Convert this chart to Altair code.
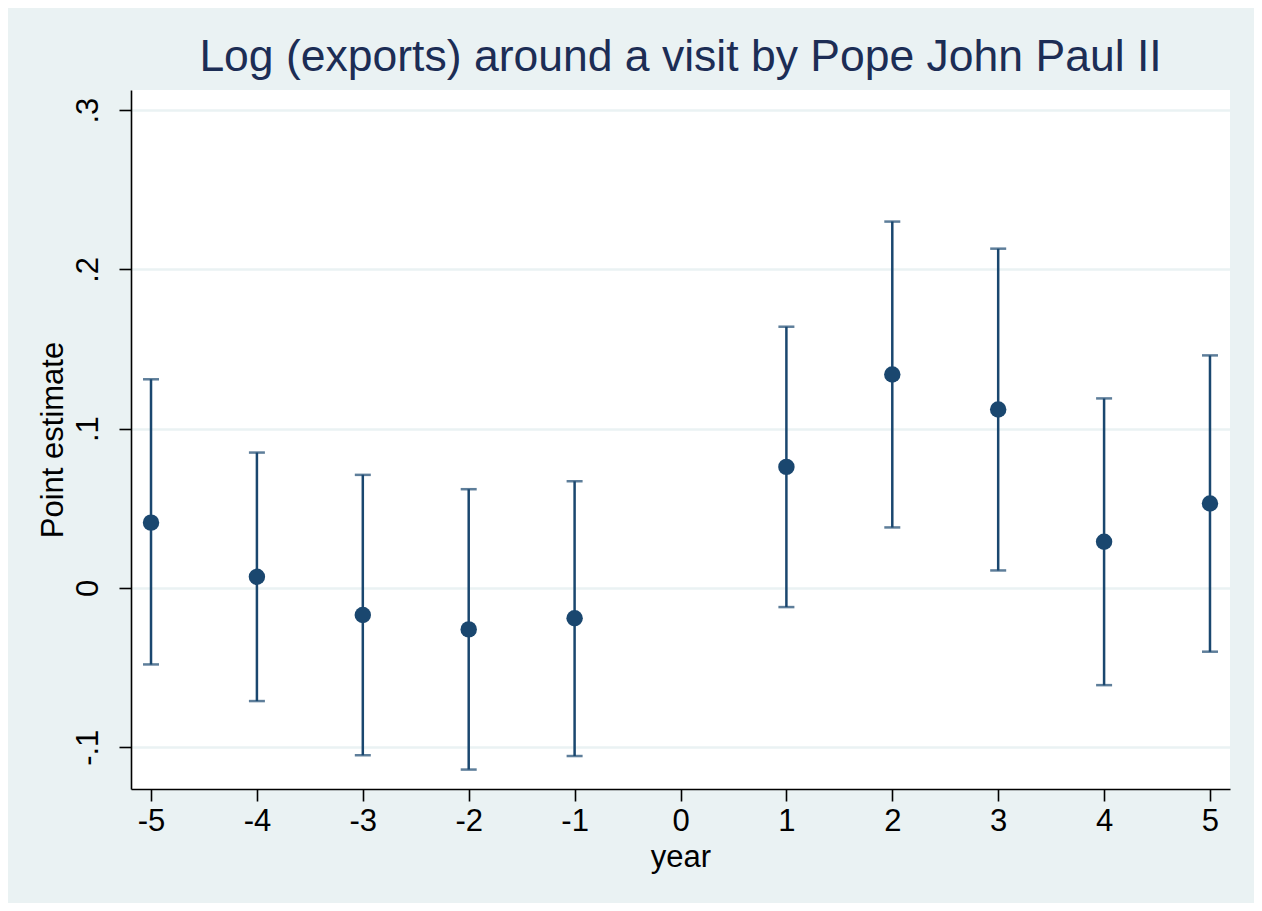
import altair as alt
import pandas as pd

years = [-5, -4, -3, -2, -1, 1, 2, 3, 4, 5]
estimate = [0.041, 0.007, -0.017, -0.026, -0.019, 0.076, 0.134, 0.112, 0.029, 0.053]
upper = [0.131, 0.085, 0.071, 0.062, 0.067, 0.164, 0.230, 0.213, 0.119, 0.146]
lower = [-0.048, -0.071, -0.105, -0.114, -0.1055, -0.012, 0.038, 0.011, -0.061, -0.040]
x_ticks = [-5, -4, -3, -2, -1, 0, 1, 2, 3, 4, 5]
y_ticks = [-0.1, 0, 0.1, 0.2, 0.3]

df = pd.DataFrame({"year": years, "est": estimate, "hi": upper, "lo": lower})

FONT = "Liberation Sans"
NAVY = "#1A476F"
W, H = 1099, 699

xscale = alt.Scale(domain=[-5.189, 5.189], nice=False, zero=False)
yscale = alt.Scale(domain=[-0.1262, 0.3126], nice=False, zero=False)

xaxis = alt.Axis(
    values=x_ticks, grid=False, title="year",
    labelExpr="'' + datum.value",
    labelFont=FONT, labelFontSize=31, labelColor="black", labelPadding=5,
    labelFlush=False,
    titleFont=FONT, titleFontSize=31, titleFontWeight="normal", titleColor="black",
    titleX=W / 2, titleY=77, titleBaseline="alphabetic", titleAlign="center",
    domainColor="black", domainWidth=1.6, tickColor="black", tickWidth=1.6, tickSize=12,
)
yaxis = alt.Axis(
    values=y_ticks, grid=True, gridColor="#EAF2F3", gridWidth=2.5, title="Point estimate",
    labelExpr="datum.value == 0 ? '0' : (datum.value < 0 ? '-' : '') + replace(format(abs(datum.value), '.1f'), '0.', '.')",
    labelFont=FONT, labelFontSize=31, labelColor="black", labelAngle=270,
    labelAlign="center", labelBaseline="alphabetic", labelPadding=22, labelFlush=False,
    titleFont=FONT, titleFontSize=31, titleFontWeight="normal", titleColor="black",
    titleAngle=270, titleX=-69, titleY=H / 2, titleBaseline="alphabetic", titleAlign="center",
    domainColor="black", domainWidth=1.6, tickColor="black", tickWidth=1.6, tickSize=12,
)

base = alt.Chart(df)

bars = base.mark_rule(color=NAVY, strokeWidth=2.5).encode(
    x=alt.X("year:Q", scale=xscale, axis=xaxis),
    y=alt.Y("lo:Q", scale=yscale, axis=yaxis),
    y2="hi:Q",
)
cap_hi = base.mark_tick(color=NAVY, orient="horizontal", size=16, thickness=2.5).encode(
    x=alt.X("year:Q", scale=xscale), y=alt.Y("hi:Q", scale=yscale)
)
cap_lo = base.mark_tick(color=NAVY, orient="horizontal", size=16, thickness=2.5).encode(
    x=alt.X("year:Q", scale=xscale), y=alt.Y("lo:Q", scale=yscale)
)
pts = base.mark_circle(color=NAVY, size=270, opacity=1).encode(
    x=alt.X("year:Q", scale=xscale), y=alt.Y("est:Q", scale=yscale)
)

chart = (
    alt.layer(bars, cap_hi, cap_lo, pts)
    .properties(
        width=W, height=H,
        title=alt.TitleParams(
            "Log (exports) around a visit by Pope John Paul II",
            font=FONT, fontSize=44.5, fontWeight="normal", color="#1C2D55",
            anchor="middle", baseline="alphabetic", offset=16, dy=41,
        ),
        autosize=alt.AutoSizeParams(type="none"),
        padding={"left": 123, "top": 82, "right": 24, "bottom": 114},
        background="#EAF2F3",
    )
    .configure_view(fill="white", stroke=None)
)

chart.save("out.html", embed_options={"renderer": "svg", "actions": False})
